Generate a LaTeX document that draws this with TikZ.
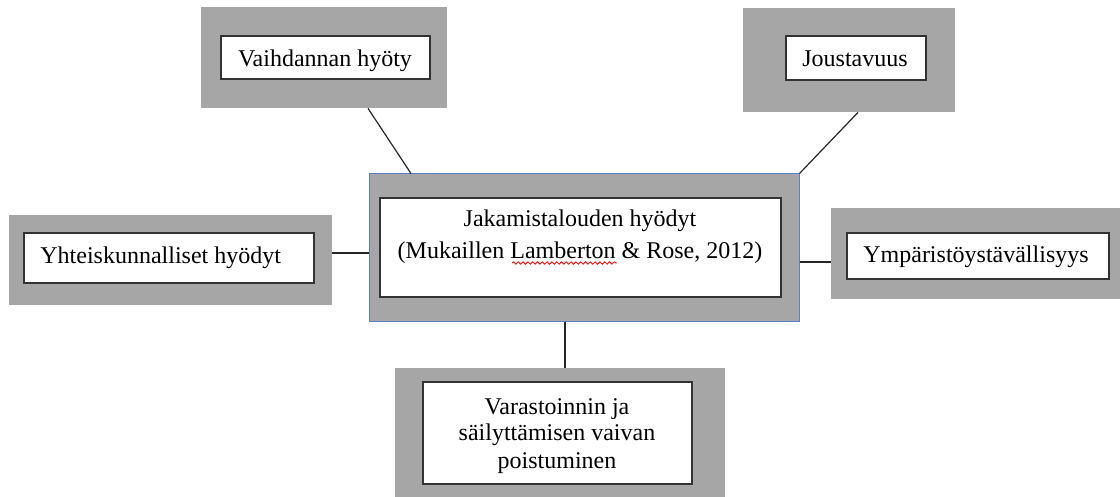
\documentclass[tikz,border=0pt]{standalone}
\usepackage{fontspec}
\setmainfont{Liberation Serif}
\usetikzlibrary{fit,decorations.pathmorphing}
\definecolor{boxgray}{HTML}{A6A6A6}
\definecolor{edgeblue}{HTML}{5B7FC8}
\tikzset{
	outerbox/.style={fill=boxgray, draw=none, inner sep=0pt},
	innerbox/.style={fill=white, draw=black!80, line width=0.7pt, inner sep=0pt},
	boxtext/.style={font=\fontsize{12}{13.8}\selectfont, inner sep=0pt, align=center},
	link/.style={draw=black!85, line width=0.6pt}
}
\begin{document}
\begin{tikzpicture}[x=0.5pt, y=-0.5pt]
		\useasboundingbox (0,0) rectangle (1120,497);
		\node[outerbox, fit={(201,7)(447,108)}] (vaihO) {};
		\node[innerbox, fit={(221,36)(430,79)}] (vaih) {};
		\node[boxtext, anchor=base] (vaihT) at (325,67) {Vaihdannan hyöty};
		\node[outerbox, fit={(743,8)(955,112)}] (jousO) {};
		\node[innerbox, fit={(786,36)(926,80)}] (jous) {};
		\node[boxtext, anchor=base] (jousT) at (855,67) {Joustavuus};
		\node[outerbox, draw=edgeblue, line width=0.5pt, fit={(369,174)(799,322)}] (jakO) {};
		\node[innerbox, fit={(380,198)(781,297)}] (jak) {};
		\node[boxtext, anchor=base, font=\fontsize{12}{16}\selectfont] (jakT) at (580,259)
		{Jakamistalouden hyödyt\\(Mukaillen Lamberton \& Rose, 2012)};
		\draw[red, line width=0.4pt, decorate, decoration={snake, amplitude=0.6pt, segment length=2.4pt}]
		(512,263) -- (617,263);
		\node[outerbox, fit={(9,215)(332,305)}] (yhtO) {};
		\node[innerbox, fit={(24,233)(314,283)}] (yht) {};
		\node[boxtext, anchor=base west] (yhtT) at (40,264) {Yhteiskunnalliset hyödyt};
		\node[outerbox, fit={(831,208)(1120,299)}] (ympO) {};
		\node[innerbox, fit={(847,233)(1109,279)}] (ymp) {};
		\node[boxtext, anchor=base] (ympT) at (976,263) {Ympäristöystävällisyys};
		\node[outerbox, fit={(395,368)(725,497)}] (varO) {};
		\node[innerbox, fit={(423,382)(692,484)}] (var) {};
		\node[boxtext, anchor=base, font=\fontsize{12}{13.5}\selectfont] (varT) at (557,468)
		{Varastoinnin ja\\säilyttämisen vaivan\\poistuminen};
		\draw[link] ([xshift=22pt]vaihO.south) -- ([xshift=-86.5pt]jakO.north);
		\draw[link] ([xshift=4.5pt]jousO.south) -- (jakO.north east);
		\draw[link] ([yshift=3.5pt]yhtO.east) -- ([yshift=-2.5pt]jakO.west);
		\draw[link] ([yshift=-7pt]jakO.east) -- ([yshift=-4.25pt]ympO.west);
		\draw[link] ([xshift=-9.5pt]jakO.south) -- ([xshift=2.5pt]varO.north);
\end{tikzpicture}
\end{document}
